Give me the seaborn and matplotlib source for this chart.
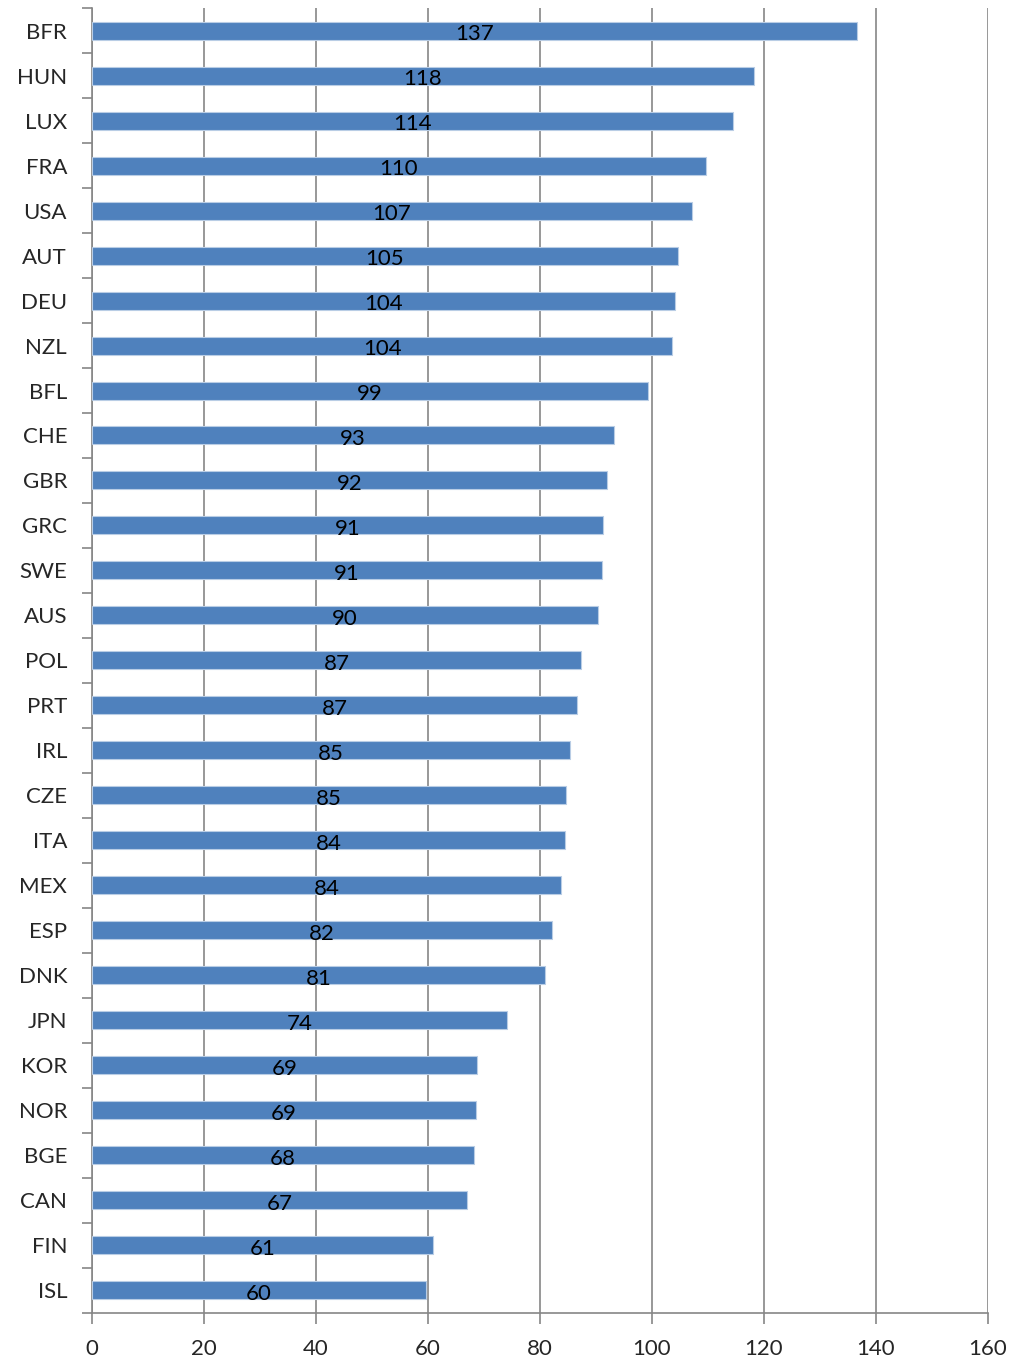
import seaborn as sns
import matplotlib.pyplot as plt
import matplotlib.ticker as mticker
import pandas as pd

countries = ["BFR", "HUN", "LUX", "FRA", "USA", "AUT", "DEU", "NZL", "BFL", "CHE",
             "GBR", "GRC", "SWE", "AUS", "POL", "PRT", "IRL", "CZE", "ITA", "MEX",
             "ESP", "DNK", "JPN", "KOR", "NOR", "BGE", "CAN", "FIN", "ISL"]
values = [136.6, 118.2, 114.4, 109.6, 107.1, 104.6, 104.1, 103.6, 99.3, 93.2,
          92.0, 91.3, 91.1, 90.4, 87.4, 86.6, 85.4, 84.6, 84.4, 83.8,
          82.1, 80.9, 74.1, 68.8, 68.6, 68.2, 67.0, 60.9, 59.6]

df = pd.DataFrame({"country": countries, "value": values})

sns.set_theme(style="white")
plt.rcParams["font.family"] = ["Lato", "DejaVu Sans"]

fig = plt.figure(figsize=(10.25, 13.6), dpi=100)
ax = fig.add_axes([0.0898, 0.0346, 0.8741, 0.9595])

sns.barplot(data=df, x="value", y="country", orient="h", color="#4F81BD",
            saturation=1, width=0.4, edgecolor="#B9CDE5", linewidth=0.8,
            ax=ax, zorder=3)

for i, v in enumerate(values):
    ax.text(v / 2, i + 0.07, f"{round(v):d}", ha="center", va="center",
            fontsize=16, color="black", zorder=4)

grey = "#868686"
ax.set_xlim(0, 160)
ax.set_ylim(len(countries) - 0.5, -0.5)
ax.xaxis.set_major_locator(mticker.MultipleLocator(20))
ax.grid(axis="x", color=grey, linewidth=1.2, zorder=0)
ax.grid(axis="y", visible=False)

ax.set_yticks(range(len(countries)))
ax.set_yticks([i + 0.5 for i in range(-1, len(countries))], minor=True)
ax.tick_params(axis="y", which="major", length=0, pad=18, labelsize=16)
ax.tick_params(axis="y", which="minor", length=7, width=1.2, color=grey, left=True)
ax.tick_params(axis="x", which="major", length=8, width=1.2, color=grey,
               bottom=True, labelsize=16, pad=11)

for side in ["top", "right"]:
    ax.spines[side].set_visible(False)
for side in ["left", "bottom"]:
    ax.spines[side].set_color(grey)
    ax.spines[side].set_linewidth(1.2)

ax.set_xlabel("")
ax.set_ylabel("")

fig.savefig("out.png", dpi=100)
